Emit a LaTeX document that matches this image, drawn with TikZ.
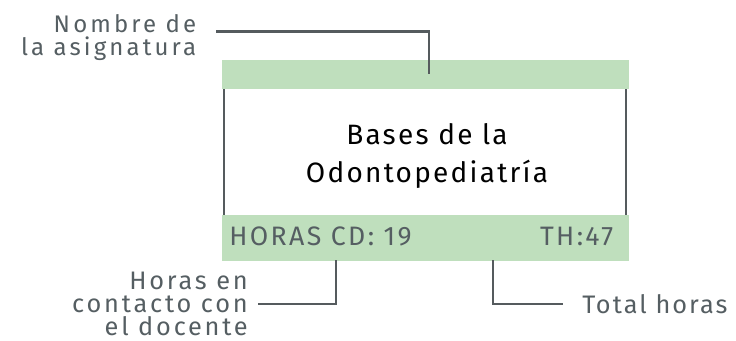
\documentclass[tikz,border=0pt]{standalone}
\usepackage{fontspec}
\setmainfont{Fira Sans}
\newfontfamily\lblfont{Fira Sans}[LetterSpace=13]
\newfontfamily\botfont{Fira Sans}[LetterSpace=11]
\newfontfamily\totfont{Fira Sans}[LetterSpace=8]
\newfontfamily\barfont{Fira Sans}[LetterSpace=9]
\newfontfamily\ttlfont{Fira Sans}[LetterSpace=8]
\definecolor{bargreen}{HTML}{BFDFBD}
\definecolor{txtgray}{HTML}{555E62}
\definecolor{linegray}{HTML}{555B5E}
\begin{document}
\begin{tikzpicture}[x=0.75pt,y=-0.75pt,
  leader/.style={draw=linegray,line width=2pt},
  boxline/.style={draw=linegray,line width=1.7pt},
  lbl/.style={text=txtgray,inner sep=0pt},
  main/.style={text=black,inner sep=0pt,align=center,font=\ttlfont\fontsize{21}{28}\selectfont}]
\useasboundingbox (0,0) rectangle (736,340);
% top bar
\fill[bargreen] (222,60) rectangle (629,89);
% bottom bar
\fill[bargreen] (222,215) rectangle (629,261);
% box sides
\draw[boxline] (224,89) -- (224,215);
\draw[boxline] (626,89) -- (626,215);
% texts (base anchor = baseline of the last line)
\node[main,anchor=base] (title) at (427,182) {Bases de la\\Odontopediatría};
\node[lbl,anchor=base west,font=\barfont\fontsize{20}{20}\selectfont] (hcd) at (229,245) {HORAS CD: 19};
\node[lbl,anchor=base east,font=\barfont\fontsize{20}{20}\selectfont] (th) at (613.5,245) {TH:47};
\node[lbl,anchor=base east,align=right,font=\lblfont\fontsize{18}{17}\selectfont] (nombre) at (196.5,55) {Nombre de\\la asignatura};
\node[lbl,anchor=base east,align=right,font=\botfont\fontsize{19}{17}\selectfont] (horas) at (248,335) {Horas en\\contacto con\\el docente};
\node[lbl,anchor=base west,font=\totfont\fontsize{19}{17}\selectfont] (total) at (582,313) {Total horas};
% leaders
\coordinate (a1) at (216,31.7);
\coordinate (a2) at (429,74);
\draw[leader] (a1) -| (a2);
\coordinate (b1) at (336,260);
\coordinate (b2) at (258,304);
\draw[leader] (b1) |- (b2);
\coordinate (c1) at (493,260);
\coordinate (c2) at (563,304);
\draw[leader] (c1) |- (c2);
\end{tikzpicture}
\end{document}
